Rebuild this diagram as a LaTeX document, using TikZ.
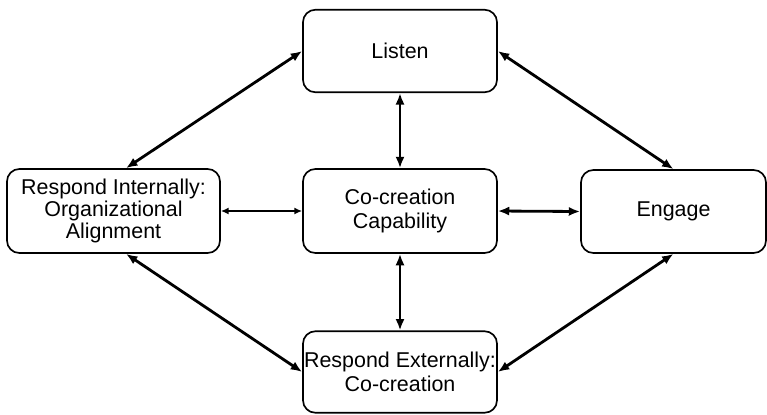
\documentclass[tikz,border=0pt]{standalone}
\usepackage{fontspec}
\setmainfont{Liberation Sans}
\usetikzlibrary{arrows.meta}

\begin{document}
\begin{tikzpicture}[x=0.02cm, y=-0.02cm,
    block/.style={draw, line width=0.95pt, rounded corners=7pt, align=center,
        inner sep=0pt, font=\fontsize{12.2}{11.2}\selectfont},
    link/.style={line width=1.6pt, {Latex[length=6.5pt,width=5.2pt]}-{Latex[length=6.5pt,width=5.2pt]}},
    thinlink/.style={line width=0.9pt, {Latex[length=4.5pt,width=4pt]}-{Latex[length=4.5pt,width=4pt]}}]
    \useasboundingbox (0,0) rectangle (767,414);

    % Boxes
    \node[block, minimum width=3.88cm, minimum height=1.65cm] (listen) at (400,51) {Listen};
    \node[block, minimum width=4.26cm, minimum height=1.68cm] (respint) at (113.5,211)
        {Respond Internally:\\Organizational\\Alignment};
    \node[block, minimum width=3.88cm, minimum height=1.68cm,
        font=\fontsize{12.2}{14}\selectfont] (cocreate) at (400,211) {Co-creation\\Capability};
    \node[block, minimum width=3.70cm, minimum height=1.66cm] (engage) at (673.5,211.5) {Engage};
    \node[block, minimum width=3.88cm, minimum height=1.63cm,
        font=\fontsize{12.2}{13.4}\selectfont] (respext) at (400,372) {Respond Externally:\\Co-creation};

    % Arrows
    \foreach \a/\b in {listen.east/engage.north, listen.south/cocreate.north,
                       cocreate.south/respext.north, cocreate.east/engage.west,
                       engage.south/respext.east} {
        \draw[link] (\a) -- (\b);
    }
    \draw[link] (listen.west) -- ([xshift=0.25cm]respint.north);
    \draw[link] ([xshift=0.25cm]respint.south) -- (respext.west);
    \draw[thinlink] (respint.east) -- (cocreate.west);
\end{tikzpicture}
\end{document}
